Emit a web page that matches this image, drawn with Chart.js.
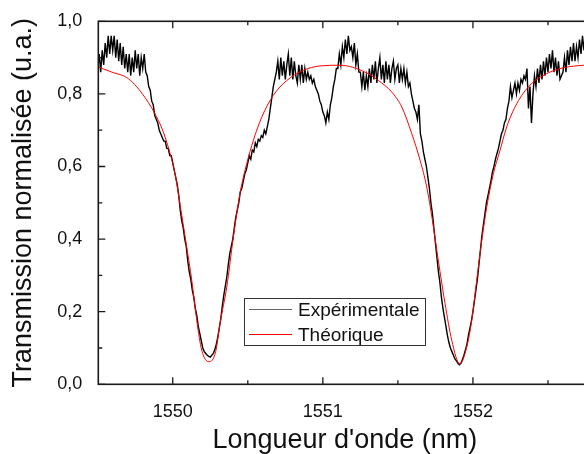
<!DOCTYPE html>
<html>
<head>
<meta charset="utf-8">
<script src="https://cdn.jsdelivr.net/npm/chart.js@4"></script>
<style>
html,body{margin:0;padding:0;overflow:hidden;background:#fff;}
#wrap{width:600px;height:454px;}
</style>
</head>
<body>
<div id="wrap"><canvas id="c" width="600" height="454"></canvas></div>
<script>
// ---- data ----
const seriesNames = ['Expérimentale', 'Théorique'];

// Experimental: sampled every 0.01 nm starting at 1549.50 nm
const expStart = 1549.50;
const expStep = 0.01;
const expValues = [
  0.87,0.91,0.86,0.92,0.88,0.94,0.90,0.96,0.91,0.96,
  0.92,0.96,0.90,0.95,0.89,0.94,0.88,0.93,0.87,0.91,
  0.86,0.91,0.85,0.90,0.86,0.92,0.87,0.91,0.85,0.90,
  0.87,0.91,0.86,0.85,0.82,0.81,0.78,0.77,0.74,0.73,
  0.72,0.70,0.69,0.68,0.67,0.67,0.65,0.65,0.63,0.63,
  0.61,0.59,0.57,0.55,0.52,0.48,0.45,0.43,0.40,0.38,
  0.34,0.31,0.29,0.26,0.24,0.21,0.19,0.16,0.14,0.12,
  0.10,0.09,0.085,0.08,0.077,0.075,0.08,0.085,0.095,0.11,
  0.13,0.155,0.18,0.215,0.245,0.27,0.295,0.33,0.36,0.38,
  0.40,0.43,0.46,0.48,0.50,0.53,0.54,0.56,0.58,0.59,
  0.61,0.63,0.62,0.645,0.64,0.665,0.655,0.675,0.67,0.685,
  0.68,0.70,0.69,0.71,0.73,0.76,0.79,0.82,0.84,0.86,
  0.89,0.84,0.90,0.85,0.89,0.84,0.88,0.91,0.85,0.90,
  0.84,0.89,0.85,0.83,0.88,0.84,0.88,0.83,0.87,0.84,
  0.86,0.84,0.85,0.83,0.84,0.82,0.81,0.80,0.78,0.77,
  0.75,0.74,0.72,0.75,0.73,0.77,0.79,0.82,0.84,0.87,
  0.87,0.91,0.88,0.93,0.90,0.95,0.91,0.96,0.92,0.93,
  0.90,0.94,0.88,0.91,0.86,0.86,0.82,0.86,0.81,0.85,
  0.82,0.87,0.83,0.88,0.84,0.89,0.83,0.87,0.90,0.84,
  0.88,0.83,0.89,0.84,0.88,0.83,0.87,0.89,0.84,0.87,
  0.88,0.83,0.87,0.84,0.87,0.83,0.86,0.82,0.83,0.80,
  0.78,0.76,0.75,0.73,0.77,0.69,0.67,0.64,0.62,0.60,
  0.57,0.54,0.50,0.47,0.43,0.39,0.35,0.31,0.28,0.24,
  0.21,0.185,0.16,0.135,0.115,0.10,0.09,0.08,0.07,0.065,
  0.058,0.054,0.058,0.068,0.08,0.095,0.11,0.135,0.155,0.175,
  0.20,0.23,0.26,0.29,0.33,0.37,0.41,0.44,0.47,0.50,
  0.52,0.54,0.56,0.585,0.60,0.62,0.635,0.65,0.67,0.69,
  0.70,0.72,0.73,0.76,0.78,0.82,0.79,0.81,0.83,0.80,
  0.83,0.81,0.84,0.83,0.85,0.84,0.87,0.76,0.82,0.72,
  0.80,0.85,0.82,0.87,0.83,0.88,0.84,0.89,0.85,0.90,
  0.86,0.91,0.87,0.92,0.86,0.90,0.85,0.89,0.84,0.85,
  0.86,0.90,0.86,0.92,0.88,0.93,0.89,0.94,0.89,0.93,
  0.90,0.95,0.91,0.96,0.92,0.97,0.93,0.96,0.92,0.96
];

// Theoretical curve: wavelengths (nm) and transmission
const theoryLambda = [
  1549.504,1549.594,1549.704,1549.815,1549.904,1549.949,1550.015,1550.055,1550.093,1550.127,
  1550.160,1550.193,1550.242,1550.286,1550.315,1550.360,1550.404,1550.448,1550.493,1550.537,
  1550.593,1550.670,1550.760,1550.870,1550.981,1551.114,1551.281,1551.370,1551.459,1551.526,
  1551.592,1551.648,1551.692,1551.730,1551.769,1551.814,1551.859,1551.912,1551.959,1551.992,
  1552.025,1552.059,1552.092,1552.136,1552.181,1552.225,1552.292,1552.380,1552.492,1552.602,
  1552.740,1552.790
];
const theoryValue = [
  0.874,0.860,0.842,0.790,0.727,0.681,0.580,0.479,0.378,0.286,
  0.176,0.094,0.062,0.090,0.168,0.268,0.406,0.526,0.608,0.672,
  0.736,0.796,0.837,0.865,0.877,0.879,0.860,0.837,0.805,0.764,
  0.691,0.617,0.544,0.452,0.342,0.223,0.121,0.056,0.103,0.176,
  0.286,0.397,0.488,0.580,0.645,0.709,0.773,0.824,0.856,0.872,
  0.879,0.880
];

// Axes
const xMin = 1549.504, xMax = 1552.79;
const yMin = 0, yMax = 1.0;
const xMajorTicks = [1550, 1551, 1552];
const xMinorTicks = [1550.5, 1551.5, 1552.5];
const yMajorTicks = [0, 0.2, 0.4, 0.6, 0.8, 1.0];
const yMinorTicks = [0.1, 0.3, 0.5, 0.7, 0.9];
const xTitle = "Longueur d'onde (nm)";
const yTitle = 'Transmission normalisée (u.a.)';

// ---- build chart ----
const expData = expValues.map((v, i) => ({x: expStart + i * expStep, y: v}));
const theoryData = theoryLambda.map((l, i) => ({x: l, y: theoryValue[i]}));

const FONT = "'Liberation Sans', Arial, sans-serif";

const framePlugin = {
  id: 'frame',
  afterDatasetsDraw(chart) {
    const {ctx, chartArea: a, scales: {x, y}} = chart;
    ctx.save();
    ctx.strokeStyle = '#1a1a1a';
    ctx.lineWidth = 1.6;
    ctx.strokeRect(a.left, a.top, a.right - a.left, a.bottom - a.top);
    const MAJ = 7, MIN = 4;
    ctx.lineWidth = 1.3;
    ctx.beginPath();
    const xt = (vals, len) => vals.forEach(v => {
      const p = x.getPixelForValue(v);
      ctx.moveTo(p, a.bottom); ctx.lineTo(p, a.bottom - len);
      ctx.moveTo(p, a.top); ctx.lineTo(p, a.top + len);
    });
    const yt = (vals, len) => vals.forEach(v => {
      const p = y.getPixelForValue(v);
      ctx.moveTo(a.left, p); ctx.lineTo(a.left + len, p);
      ctx.moveTo(a.right, p); ctx.lineTo(a.right - len, p);
    });
    xt(xMajorTicks, MAJ); xt(xMinorTicks, MIN);
    yt(yMajorTicks, MAJ); yt(yMinorTicks, MIN);
    ctx.stroke();

    // legend box
    const bx = 244.5, by = 298.5, bw = 181, bh = 47;
    ctx.fillStyle = '#fff';
    ctx.fillRect(bx, by, bw, bh);
    ctx.strokeStyle = '#333';
    ctx.lineWidth = 1;
    ctx.strokeRect(bx, by, bw, bh);
    const ds = chart.data.datasets;
    const rows = [{y: 309.5, ds: ds[0], col: '#666'}, {y: 334.5, ds: ds[1], col: ds[1].borderColor}];
    ctx.font = '19px ' + FONT;
    ctx.textBaseline = 'middle';
    ctx.textAlign = 'left';
    rows.forEach(r => {
      ctx.strokeStyle = r.col;
      ctx.lineWidth = 1.2;
      ctx.beginPath();
      ctx.moveTo(249, r.y); ctx.lineTo(292, r.y);
      ctx.stroke();
      ctx.fillStyle = '#111';
      ctx.fillText(r.ds.label, 298, r.y + 1);
    });
    ctx.restore();
  }
};

new Chart(document.getElementById('c'), {
  type: 'line',
  data: {
    datasets: [
      {label: seriesNames[0], data: expData, borderColor: '#000', borderWidth: 1.4,
       pointRadius: 0, tension: 0, order: 2},
      {label: seriesNames[1], data: theoryData, borderColor: '#ff0000', borderWidth: 1,
       pointRadius: 0, cubicInterpolationMode: 'monotone', order: 1}
    ]
  },
  options: {
    responsive: false,
    animation: false,
    devicePixelRatio: 1,
    layout: {padding: {top: 21.3, right: 8.5, bottom: 0, left: 0}},
    plugins: {legend: {display: false}, tooltip: {enabled: false}},
    scales: {
      x: {
        type: 'linear', min: xMin, max: xMax,
        afterBuildTicks: s => { s.ticks = xMajorTicks.map(v => ({value: v})); },
        afterFit: s => { s.height = 69.7; },
        grid: {display: false}, border: {display: false},
        ticks: {padding: 9, color: '#111', font: {family: FONT, size: 18},
                callback: v => String(v), maxRotation: 0, autoSkip: false},
        title: {display: true, text: xTitle, color: '#111',
                font: {family: FONT, size: 27, lineHeight: 1}, padding: {top: 0, bottom: 0}}
      },
      y: {
        type: 'linear', min: yMin, max: yMax,
        afterBuildTicks: s => { s.ticks = yMajorTicks.map(v => ({value: v})); },
        afterFit: s => { s.width = 98.3; },
        grid: {display: false}, border: {display: false},
        ticks: {padding: 8, color: '#111', font: {family: FONT, size: 18},
                callback: v => v.toFixed(1).replace('.', ',')},
        title: {display: true, text: yTitle, color: '#111',
                font: {family: FONT, size: 27, lineHeight: 1}, padding: {top: 10, bottom: 0}}
      }
    }
  },
  plugins: [framePlugin]
});
</script>
</body>
</html>
